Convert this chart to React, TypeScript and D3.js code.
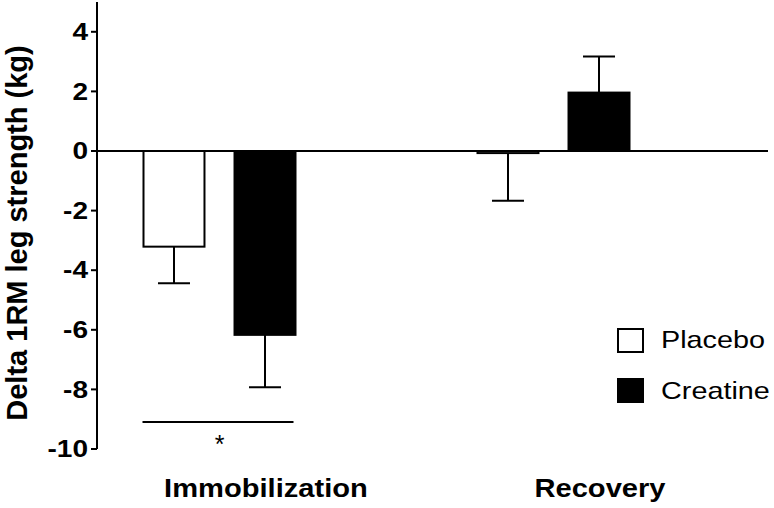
import React from "react";
import * as d3 from "d3";

const categories = ["Immobilization", "Recovery"];
const seriesNames = ["Placebo", "Creatine"];
const placeboMeans = [-3.21, -0.07];
const placeboSem = [1.23, 1.6];
const creatineMeans = [-6.17, 1.96];
const creatineSem = [1.76, 1.21];
const yTicks = [-10, -8, -6, -4, -2, 0, 2, 4];
const yLabel = "Delta 1RM leg strength (kg)";

const W = 774;
const H = 508;
const FONT = "'Liberation Sans', Arial, Helvetica, sans-serif";

function SText({ x, y, sx = 1, anchor = "start", size, weight = "normal", children }: any) {
  return (
    <text
      transform={`translate(${x},${y}) scale(${sx},1)`}
      textAnchor={anchor}
      fontSize={size}
      fontWeight={weight}
      fontFamily={FONT}
      fill="#000"
    >
      {children}
    </text>
  );
}

export default function App() {
  const axisX = 97;
  const y = d3.scaleLinear().domain([-10, 5]).range([449, 2]);
  const xCat = d3.scalePoint<string>().domain(categories).range([265, 599]);
  const xSer = d3
    .scaleBand<string>()
    .domain(seriesNames)
    .range([-121.5, 30.5])
    .paddingInner(0.33)
    .paddingOuter(0);
  const bw = xSer.bandwidth();
  const capW = 32;

  const data = categories.flatMap((c, i) => [
    { cat: c, ser: "Placebo", v: placeboMeans[i], e: placeboSem[i], fill: "#fff" },
    { cat: c, ser: "Creatine", v: creatineMeans[i], e: creatineSem[i], fill: "#000" },
  ]);

  const tickFont = 23;
  const sig = { from: "Immobilization" };

  return (
    <svg width={W} height={H} style={{ position: "absolute", left: 0, top: 0, background: "#fff" }}>
      <rect x={0} y={0} width={W} height={H} fill="#fff" />
      {data.map((d, i) => {
        const cx = (xCat(d.cat) as number) + (xSer(d.ser) as number) + bw / 2;
        const end = d.v >= 0 ? d.v + d.e : d.v - d.e;
        return (
          <g key={"e" + i} stroke="#000" strokeWidth={2}>
            <line x1={cx} x2={cx} y1={y(d.v)} y2={y(end)} />
            <line x1={cx - capW / 2} x2={cx + capW / 2} y1={y(end)} y2={y(end)} />
          </g>
        );
      })}
      {data.map((d, i) => {
        const x0 = (xCat(d.cat) as number) + (xSer(d.ser) as number);
        const y0 = Math.min(y(0), y(d.v));
        const h = Math.abs(y(d.v) - y(0));
        return (
          <rect key={"b" + i} x={x0} y={y0} width={bw} height={h} fill={d.fill} stroke="#000" strokeWidth={2} />
        );
      })}
      <line x1={axisX} x2={768} y1={y(0)} y2={y(0)} stroke="#000" strokeWidth={2} />
      <line x1={axisX} x2={axisX} y1={y(5)} y2={y(-10)} stroke="#000" strokeWidth={2} />
      {yTicks.map((t) => (
        <g key={t}>
          <line x1={axisX - 6} x2={axisX} y1={y(t)} y2={y(t)} stroke="#000" strokeWidth={2} />
          <SText x={88} y={y(t) + tickFont * 0.358} sx={1.22} anchor="end" size={tickFont} weight="bold">
            {t}
          </SText>
        </g>
      ))}
      <text
        transform={`translate(27,233) rotate(-90)`}
        textAnchor="middle"
        fontSize={29}
        fontWeight="bold"
        fontFamily={FONT}
      >
        {yLabel}
      </text>
      {categories.map((c) => (
        <SText key={c} x={(xCat(c) as number) + 1} y={497} sx={1.12} anchor="middle" size={26} weight="bold">
          {c}
        </SText>
      ))}
      {(() => {
        const x1 = (xCat(sig.from) as number) + (xSer("Placebo") as number);
        const x2 = (xCat(sig.from) as number) + (xSer("Creatine") as number) + bw;
        return (
          <g>
            <line x1={x1 - 1} x2={x2 - 2} y1={422} y2={422} stroke="#000" strokeWidth={2} />
            <SText x={(x1 + x2) / 2} y={453} anchor="middle" size={25}>
              *
            </SText>
          </g>
        );
      })()}
      {seriesNames.map((s, i) => (
        <g key={s}>
          <rect x={618} y={329 + i * 50} width={25} height={23} fill={i === 0 ? "#fff" : "#000"} stroke="#000" strokeWidth={2} />
          <SText x={661} y={348 + i * 51} sx={1.2} size={24}>
            {s}
          </SText>
        </g>
      ))}
    </svg>
  );
}
